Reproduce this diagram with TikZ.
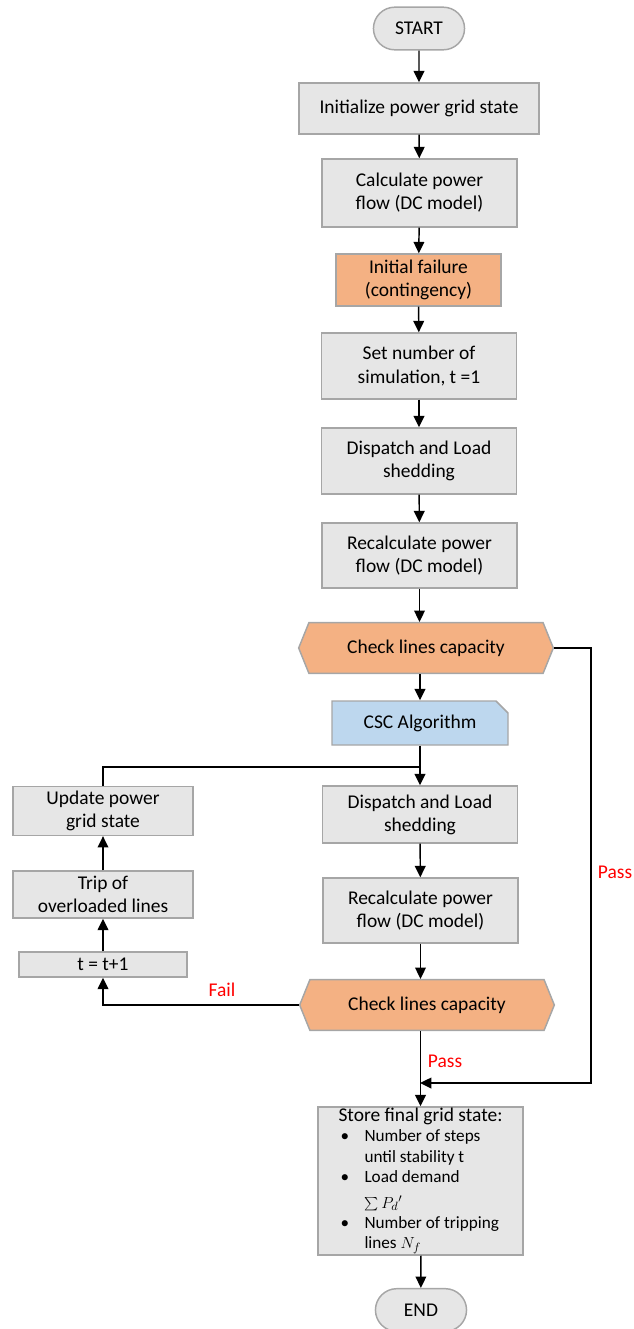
\documentclass[tikz,border=0pt]{standalone}
\usepackage{fontspec}
\setmainfont{Carlito}
\usetikzlibrary{arrows.meta,shapes.misc,shapes.symbols}
\definecolor{boxgray}{HTML}{E6E6E6}
\definecolor{edgegray}{HTML}{A6A6A6}
\definecolor{chkorange}{HTML}{F4B183}
\definecolor{cscblue}{HTML}{BDD7EE}
\newcommand{\bitem}{\hspace*{1.5pt}\makebox[18pt][l]{\textbullet}}
\newcommand{\bcont}{\hspace*{19.5pt}}
\begin{document}
\begin{tikzpicture}[x=0.75pt,y=-0.75pt,every node/.style={font=\fontsize{14.6}{17.3}\selectfont},
  box/.style={draw=edgegray,line width=1.1pt,fill=boxgray,align=center},
  term/.style={box,rounded rectangle,minimum width=75pt,minimum height=32pt},
  chk/.style={box,fill=chkorange,signal,signal to=west and east,signal pointer angle=136,minimum width=191pt,minimum height=38pt},
  arr/.style={-{Triangle[length=8.5pt,width=8pt]},line width=1.1pt},
  lbl/.style={text=red}]
\useasboundingbox (0,0) rectangle (634,1329);
% main column
\node[term] (start) at (419,28.5) {START};
\node[box,minimum width=180pt,minimum height=38.25pt] (init) at (419,108.5) {Initialize power grid state};
\node[box,minimum width=146.25pt,minimum height=51pt] (calc) at (419.5,193) {Calculate power\\flow (DC model)};
\node[box,fill=chkorange,minimum width=123.75pt,minimum height=39pt] (fail0) at (418.5,280) {Initial failure\\(contingency)};
\node[box,minimum width=146.25pt,minimum height=49.5pt] (setn) at (419,366) {Set number of\\simulation, t =1};
\node[box,minimum width=146.25pt,minimum height=49.5pt] (disp1) at (419,461) {Dispatch and Load\\shedding};
\node[box,minimum width=146.25pt,minimum height=48.75pt] (recalc1) at (419.5,555.5) {Recalculate power\\flow (DC model)};
\node[chk] (check1) at (426,648) {Check lines capacity};
\node[box,fill=cscblue,chamfered rectangle,chamfered rectangle corners=north east,chamfered rectangle xsep=3pt,chamfered rectangle ysep=6pt,minimum width=132pt,minimum height=33pt] (csc) at (420,723) {CSC Algorithm};
\node[box,minimum width=146.25pt,minimum height=42.75pt] (disp2) at (420,814.5) {Dispatch and Load\\shedding};
\node[box,minimum width=146.25pt,minimum height=48.75pt] (recalc2) at (420.5,910.5) {Recalculate power\\flow (DC model)};
\node[chk] (check2) at (427,1005) {Check lines capacity};
\node[box,minimum width=153.75pt,minimum height=111pt,inner ysep=0pt,align=left,font=\fontsize{12.9}{15.2}\selectfont] (store) at (420.5,1181) {{\fontsize{14.6}{15.2}\selectfont Store final grid state:}\\
\bitem Number of steps\\
\bcont until stability t\\
\bitem Load demand\\[4pt]
\bcont $\sum P_d{}'$\\
\bitem Number of tripping\\
\bcont lines $N_f$};
\node[term] (end) at (421,1310) {END};
% left loop
\node[box,minimum width=135pt,minimum height=36pt] (update) at (103,811) {Update power\\grid state};
\node[box,minimum width=135pt,minimum height=35.25pt] (trip) at (103,894.5) {Trip of\\overloaded lines};
\node[box,minimum width=126pt,minimum height=18.75pt,inner ysep=1pt] (tinc) at (103,964.5) {t = t+1};
\coordinate (join) at (420,767); \coordinate (merge) at (420,1083);
% connectors
\draw[arr] (start) -- (init); \draw[arr] (init) -- (calc); \draw[arr] (calc) -- (fail0);
\draw[arr] (fail0) -- (setn); \draw[arr] (setn) -- (disp1); \draw[arr] (disp1) -- (recalc1);
\draw[arr] (recalc1.south) -- (recalc1.south |- check1.north);
\draw[arr] (csc.north |- check1.south) -- (csc.north);
\draw[arr] (csc.south) -- (disp2.north); \draw[line width=1.1pt] (update.north) |- (join);
\draw[arr] (disp2) -- (recalc2); \draw[arr] (recalc2.south) -- (recalc2.south |- check2.north);
\draw[arr] (store.north |- check2.south) -- (store.north);
\draw[arr] (check1.east) -- ++(37,0) |- (merge);
\draw[arr] (check2.west) -| (tinc.south);
\draw[arr] (tinc) -- (trip); \draw[arr] (trip) -- (update);
\draw[arr] (store) -- (end);
% labels
\node[lbl] (pass1) at (615,872) {Pass}; \node[lbl] (pass2) at (445,1061) {Pass};
\node[lbl] (fail) at (222,990) {Fail};
\end{tikzpicture}
\end{document}
